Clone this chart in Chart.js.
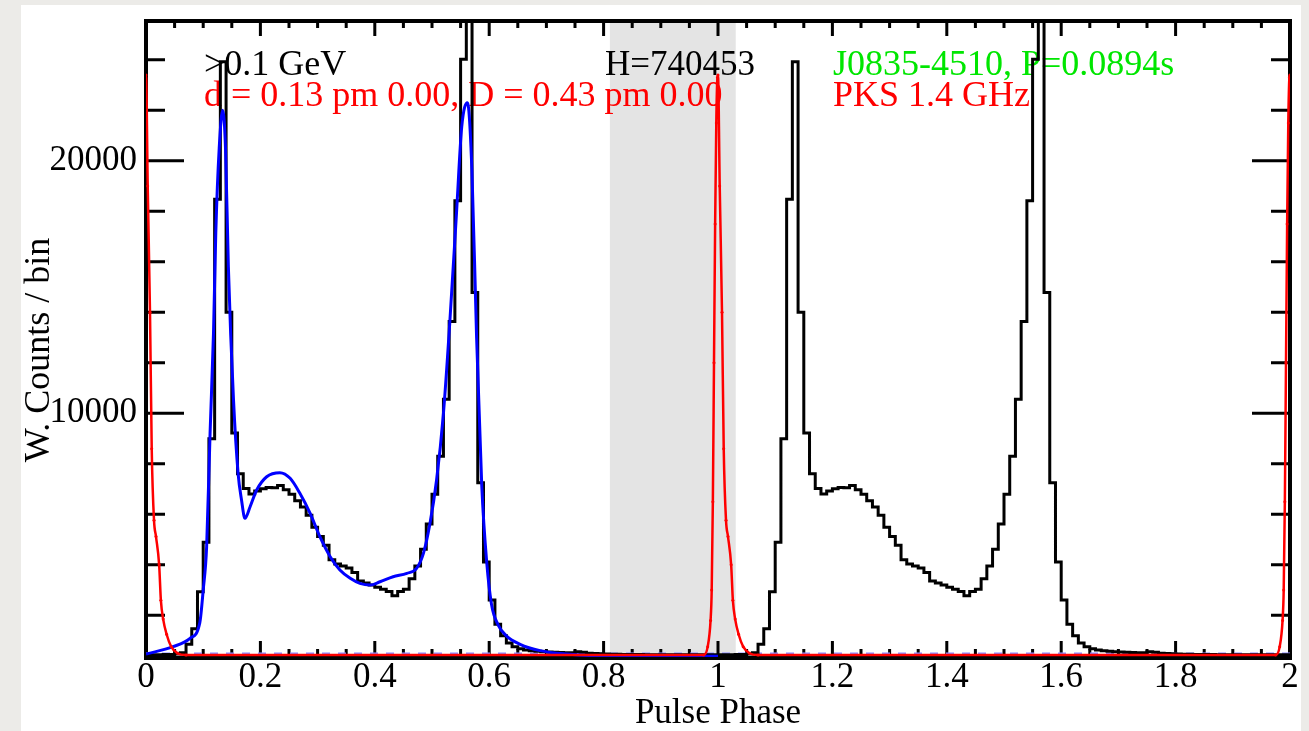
<!DOCTYPE html>
<html>
<head>
<meta charset="utf-8">
<title>J0835-4510 pulse profile</title>
<script src="https://cdn.jsdelivr.net/npm/chart.js@4.4.1/dist/chart.umd.min.js"></script>
<style>
  html, body { margin: 0; padding: 0; background: #ecebe8; }
  #chart { display: block; }
</style>
</head>
<body>
<canvas id="chart" width="1309" height="731"></canvas>
<script>
const FONT = '"Liberation Serif", "Times New Roman", serif';

// weighted gamma counts, 0.01 wide phase bins over one rotation (plotted twice)
const binWidth = 0.01;
const gammaCounts = [
  440, 440, 440, 445, 450, 470, 520, 850, 1470, 2930,
  4890, 8990, 18480, 23920, 14000, 9220, 7610, 7020, 6800, 6920,
  7010, 7060, 7050, 7140, 6970, 6790, 6540, 6290, 5960, 5490,
  5120, 4780, 4200, 4030, 3950, 3870, 3700, 3360, 3280, 3200,
  3110, 3030, 2940, 2780, 2940, 3030, 3450, 3950, 4620, 5620,
  6790, 8300, 10560, 13640, 18420, 24020, 27500, 14780, 7250, 4110,
  2605, 1650, 1190, 900, 760, 680, 630, 600, 580, 560,
  545, 535, 525, 520, 515, 560, 540, 500, 490, 480,
  470, 460, 455, 450, 450, 445, 445, 440, 440, 440,
  440, 440, 440, 440, 440, 440, 440, 440, 440, 440
];

// model fit (blue)
const fitPhase = [
  0.0, 0.047, 0.077, 0.094, 0.1, 0.106, 0.112, 0.118, 0.122, 0.128,
  0.134, 0.139, 0.144, 0.153, 0.161, 0.167, 0.173, 0.182, 0.1935, 0.211,
  0.234, 0.252, 0.269, 0.287, 0.304, 0.322, 0.339, 0.357, 0.374, 0.392,
  0.409, 0.432, 0.456, 0.473, 0.485, 0.4965, 0.508, 0.52, 0.531, 0.543,
  0.552, 0.562, 0.5697, 0.578, 0.587, 0.5956, 0.604, 0.616, 0.63, 0.654,
  0.689, 0.7355, 0.79, 1.0
];
const fitCounts = [
  466, 757, 1089, 1700, 3000, 4716, 9200, 13180, 17140, 20500,
  22000, 20500, 15805, 10526, 7623, 6566, 5841, 6300, 6962, 7488,
  7647, 7425, 6831, 6039, 5112, 4320, 3794, 3465, 3267, 3200,
  3330, 3528, 3663, 3861, 4455, 5643, 7358, 10000, 13563, 18000,
  21350, 22300, 19680, 12980, 7128, 4114, 2443, 1604, 1188, 851,
  602, 467, 400, 380
];

// radio profile (PKS 1.4 GHz), phase offset from the radio peak, scaled
const radioOffset = [
  -0.025, -0.018, -0.013, -0.011, -0.009, -0.007, -0.005, -0.003, -0.001, 0.0,
  0.003, 0.007, 0.010, 0.014, 0.0175, 0.023, 0.026, 0.030, 0.036, 0.044,
  0.055, 0.07
];
const radioFlux = [
  430, 760, 1800, 3000, 6500, 12000, 17500, 21500, 23300, 23400,
  19000, 14000, 8600, 5770, 5120, 4000, 2600, 1850, 1250, 760,
  500, 430
];
const radioPeaks = [0, 1, 2];

const offPulse = [0.811, 1.031];
const fitBaseline = 500;

const xTicks = [0, 0.2, 0.4, 0.6, 0.8, 1, 1.2, 1.4, 1.6, 1.8, 2];
const yTicks = [10000, 20000];
const xRange = [0, 2];
const yRange = [350, 25575];
const xMinorStep = 0.05;
const yMinorStep = 2000;

const noteText = [
  '>0.1 GeV',
  'd = 0.13 pm 0.00, D = 0.43 pm 0.00',
  'H=740453',
  'J0835-4510, P=0.0894s',
  'PKS 1.4 GHz',
];
const yTitle = 'W. Counts / bin';

// build point lists
const histPoints = [{ x: 0, y: gammaCounts[0] }];
for (let rot = 0; rot < 2; rot++) {
  gammaCounts.forEach((c, i) => histPoints.push({ x: rot + (i + 0.5) * binWidth, y: c }));
}
histPoints.push({ x: 2, y: gammaCounts[gammaCounts.length - 1] });

const fitPoints = fitPhase.map((p, i) => ({ x: p, y: fitCounts[i] }));

const radioPoints = [];
radioPeaks.forEach(c => radioOffset.forEach((o, i) => radioPoints.push({ x: c + o, y: radioFlux[i] })));

// where and how the notes are written
const noteStyle = [
  { x: 204, y: 75, color: '#000000', size: 36 },
  { x: 204, y: 106, color: '#ff0000', size: 36 },
  { x: 605, y: 75, color: '#000000', size: 35 },
  { x: 833, y: 75, color: '#00e600', size: 36 },
  { x: 833, y: 106, color: '#ff0000', size: 36 },
];

const frame = {
  id: 'frame',
  beforeDraw(chart) {
    const ctx = chart.ctx;
    ctx.save();
    ctx.fillStyle = '#ffffff';
    ctx.fillRect(21, 5, 1280, 726);
    // y axis title
    ctx.translate(40, 350);
    ctx.rotate(-Math.PI / 2);
    ctx.font = '36px ' + FONT;
    ctx.fillStyle = '#000';
    ctx.textAlign = 'center';
    ctx.textBaseline = 'middle';
    ctx.fillText(yTitle, 0, 0);
    ctx.restore();
  },
  beforeDatasetsDraw(chart) {
    const { ctx, chartArea: a, scales: { x, y } } = chart;
    ctx.save();
    // off-pulse window
    const x0 = x.getPixelForValue(offPulse[0]);
    const x1 = x.getPixelForValue(offPulse[1]);
    ctx.fillStyle = '#e4e4e4';
    ctx.fillRect(x0, a.top, x1 - x0, a.bottom - a.top);

    // notes
    ctx.textBaseline = 'alphabetic';
    ctx.textAlign = 'left';
    noteText.forEach((t, i) => {
      const s = noteStyle[i];
      ctx.font = s.size + 'px ' + FONT;
      ctx.fillStyle = s.color;
      ctx.fillText(t, s.x, s.y);
    });

    // inward ticks on all four sides, then the box
    ctx.strokeStyle = '#000';
    ctx.lineWidth = 3;
    ctx.beginPath();
    const nx = Math.round((xRange[1] - xRange[0]) / xMinorStep);
    for (let i = 0; i <= nx; i++) {
      const px = x.getPixelForValue(xRange[0] + i * xMinorStep);
      const len = i % 4 === 0 ? 16 : 8;
      ctx.moveTo(px, a.bottom); ctx.lineTo(px, a.bottom - len);
      ctx.moveTo(px, a.top); ctx.lineTo(px, a.top + len);
    }
    for (let v = yMinorStep; v <= yRange[1]; v += yMinorStep) {
      if (v < yRange[0]) continue;
      const py = y.getPixelForValue(v);
      const len = v % 10000 === 0 ? 38 : 19;
      ctx.moveTo(a.left, py); ctx.lineTo(a.left + len, py);
      ctx.moveTo(a.right, py); ctx.lineTo(a.right - len, py);
    }
    ctx.stroke();
    ctx.lineWidth = 4;
    ctx.strokeRect(a.left, a.top + 1, a.right - a.left, a.bottom - a.top);
    ctx.restore();
  }
};

new Chart(document.getElementById('chart').getContext('2d'), {
  type: 'line',
  data: {
    datasets: [
      { label: 'PKS 1.4 GHz', data: radioPoints, borderColor: '#ff0000', backgroundColor: '#ff0000',
        borderWidth: 2.5, pointRadius: 1.5, pointBorderWidth: 0, cubicInterpolationMode: 'monotone' },
      { label: 'fit', data: fitPoints, borderColor: '#0000ff', borderWidth: 3, pointRadius: 0,
        cubicInterpolationMode: 'monotone' },
      { label: 'gamma', data: histPoints, borderColor: '#000000', borderWidth: 3, pointRadius: 0,
        stepped: 'middle' },
      { label: 'fit baseline', data: [{ x: 0, y: fitBaseline }, { x: 2, y: fitBaseline }],
        borderColor: '#8c8cff', borderWidth: 1.5, borderDash: [8, 8], pointRadius: 0 },
    ]
  },
  options: {
    responsive: false, animation: false,
    layout: { padding: { left: 0, right: 19, top: 20, bottom: 0 } },
    plugins: { legend: { display: false }, tooltip: { enabled: false } },
    scales: {
      x: {
        type: 'linear', min: xRange[0], max: xRange[1],
        afterBuildTicks: s => { s.ticks = xTicks.map(v => ({ value: v })); },
        afterFit: s => { s.height = 74; },
        grid: { display: false, drawTicks: false }, border: { display: false },
        ticks: { autoSkip: false, maxRotation: 0, padding: 0, color: '#000',
          font: { family: FONT, size: 35 }, callback: v => String(Math.round(v * 10) / 10) },
        title: { display: true, text: 'Pulse Phase', color: '#000',
          font: { family: FONT, size: 35 }, padding: { top: 0, bottom: -4 } },
      },
      y: {
        type: 'linear', min: yRange[0], max: yRange[1],
        afterBuildTicks: s => { s.ticks = yTicks.map(v => ({ value: v })); },
        afterFit: s => { s.width = 146; },
        grid: { display: false, drawTicks: false }, border: { display: false },
        ticks: { padding: 9, color: '#000', font: { family: FONT, size: 35, lineHeight: 0.5 },
          callback: v => String(v) },
        title: { display: false },
      },
    },
  },
  plugins: [frame],
});
</script>
</body>
</html>
